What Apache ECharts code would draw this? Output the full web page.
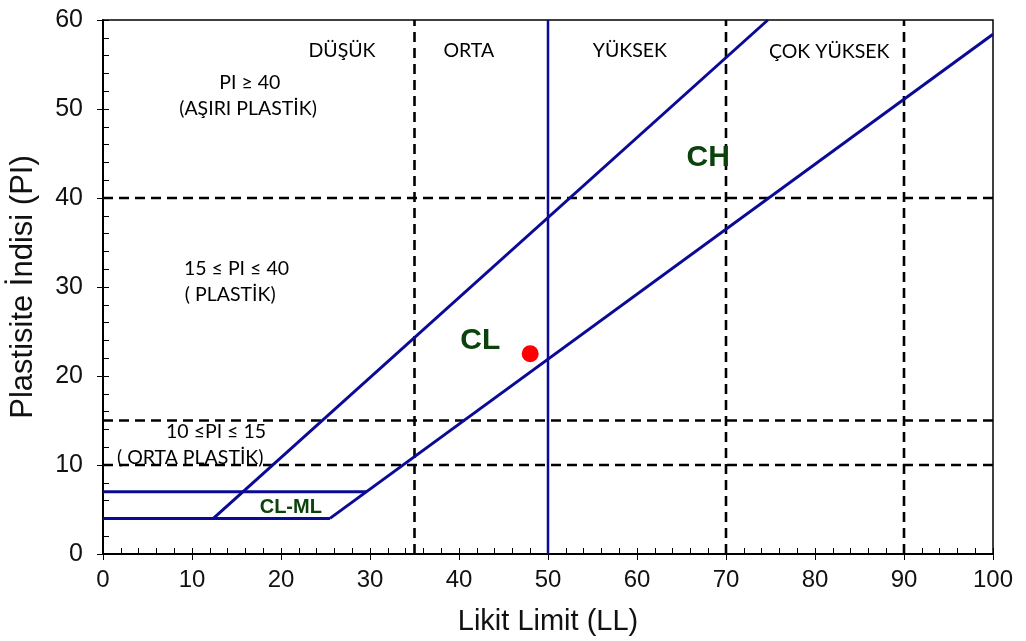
<!DOCTYPE html>
<html>
<head>
<meta charset="utf-8">
<script src="https://cdn.jsdelivr.net/npm/echarts@6/dist/echarts.min.js"></script>
<style>
  html, body { margin: 0; padding: 0; background: #fff; }
  #chart { width: 1026px; height: 641px; }
</style>
</head>
<body>
<div id="chart"></div>
<script>
// Casagrande plasticity chart: liquid limit (LL) vs plasticity index (PI)

// Axis ticks
const xTicks = [0, 10, 20, 30, 40, 50, 60, 70, 80, 90, 100];
const yTicks = [0, 10, 20, 30, 40, 50, 60];

// Classification lines, as [LL, PI] end points
const uLine = [[12.4, 4], [74.7, 60]];
const aLine = [[25.5, 4], [100, 58.4]];
const pi7Line = [[0, 7], [29.6, 7]];
const pi4Line = [[0, 4], [25.5, 4]];
const ll50Line = [[50, 0], [50, 60]];

// Zone boundaries (dashed)
const llBounds = [35, 70, 90];
const piBounds = [10, 15, 40];

// Sample
const sample = [[48, 22.5]];

// Zone and group names
const plasticityLabels = ['DÜŞÜK', 'ORTA', 'YÜKSEK', 'ÇOK YÜKSEK'];
const piLabels = ['PI ≥ 40', '(AŞIRI PLASTİK)', '15 ≤ PI ≤ 40', '( PLASTİK)', '10 ≤PI ≤ 15', '( ORTA PLASTİK)'];
const groupLabels = ['CH', 'CL', 'CL-ML'];

const BLUE = '#0a0a96';
const GREEN = '#0c420c';
const TXT = '#000';

const textFont = 'Lato, "Open Sans", sans-serif';
const axisFont = '"Liberation Sans", Arial, sans-serif';

function blueLine(data, width) {
  return {
    type: 'line', data: data, symbol: 'none', silent: true,
    lineStyle: { color: BLUE, width: width || 3 }, z: 3
  };
}

function dashed(data) {
  return {
    type: 'line', data: data, symbol: 'none', silent: true,
    lineStyle: { color: '#000', width: 2.6, type: [10, 6] }, z: 2
  };
}

function textItem(pos, text, style) {
  return {
    value: pos,
    label: Object.assign({ show: true, formatter: text, position: 'inside' }, style)
  };
}

const plainStyle = { color: TXT, fontSize: 19.5, fontFamily: textFont };
const groupStyle = { color: GREEN, fontSize: 30, fontWeight: 'bold', fontFamily: axisFont };

const labelData = [
  textItem([26.85, 56.6], plasticityLabels[0], plainStyle),
  textItem([41.1, 56.6], plasticityLabels[1], plainStyle),
  textItem([59.2, 56.6], plasticityLabels[2], plainStyle),
  textItem([81.6, 56.4], plasticityLabels[3], plainStyle),
  textItem([16.5, 52.9], piLabels[0], plainStyle),
  textItem([16.3, 50.0], piLabels[1], plainStyle),
  textItem([15.0, 32.1], piLabels[2], plainStyle),
  textItem([14.3, 29.1], piLabels[3], plainStyle),
  textItem([12.7, 13.7], piLabels[4], plainStyle),
  textItem([9.8, 10.8], piLabels[5], plainStyle),
  textItem([68.0, 44.5], groupLabels[0], groupStyle),
  textItem([42.4, 24.0], groupLabels[1], groupStyle),
  textItem([21.1, 5.2], groupLabels[2], Object.assign({}, groupStyle, { fontSize: 20 }))
];

const series = [];
llBounds.forEach(v => series.push(dashed([[v, 0], [v, 60]])));
piBounds.forEach(v => series.push(dashed([[0, v], [100, v]])));
series.push(blueLine(uLine));
series.push(blueLine(aLine));
series.push(blueLine(pi7Line));
series.push(blueLine(pi4Line));
series.push(blueLine(ll50Line, 2.5));
series.push({
  type: 'scatter', data: sample, symbol: 'circle', symbolSize: 17,
  itemStyle: { color: '#ff0000', opacity: 1 }, silent: true, z: 5
});
series.push({
  type: 'scatter', data: labelData, symbolSize: 0, silent: true, z: 6,
  itemStyle: { opacity: 1 }
});

const chart = echarts.init(document.getElementById('chart'), null, { renderer: 'canvas' });

const majorX = {
  type: 'value', min: xTicks[0], max: xTicks[xTicks.length - 1], interval: 10,
  position: 'bottom',
  name: 'Likit Limit (LL)', nameLocation: 'middle', nameGap: 53,
  nameTextStyle: { fontSize: 29, color: '#111', fontFamily: axisFont },
  axisLine: { show: true, onZero: false, lineStyle: { color: '#000', width: 2 } },
  axisTick: { show: true, inside: false, length: 6, lineStyle: { color: '#000', width: 1 } },
  axisLabel: { fontSize: 24, color: '#111', margin: 14, fontFamily: axisFont },
  splitLine: { show: false }
};
const minorX = {
  type: 'value', min: xTicks[0], max: xTicks[xTicks.length - 1], interval: 2,
  position: 'bottom',
  axisLine: { show: false, onZero: false },
  axisTick: { show: true, inside: true, length: 6, lineStyle: { color: '#000', width: 1 } },
  axisLabel: { show: false },
  splitLine: { show: false }
};
const majorY = {
  type: 'value', min: yTicks[0], max: yTicks[yTicks.length - 1], interval: 10,
  position: 'left',
  name: 'Plastisite İndisi (PI)', nameLocation: 'middle', nameGap: 64,
  nameTextStyle: { fontSize: 31, color: '#111', fontFamily: axisFont },
  axisLine: { show: true, onZero: false, lineStyle: { color: '#000', width: 2 } },
  axisTick: { show: true, inside: false, length: 6, lineStyle: { color: '#000', width: 1 } },
  axisLabel: { fontSize: 25, color: '#111', margin: 20, fontFamily: axisFont },
  splitLine: { show: false }
};
const minorY = {
  type: 'value', min: yTicks[0], max: yTicks[yTicks.length - 1], interval: 2,
  position: 'left',
  axisLine: { show: false, onZero: false },
  axisTick: { show: true, inside: true, length: 6, lineStyle: { color: '#000', width: 1 } },
  axisLabel: { show: false },
  splitLine: { show: false }
};

chart.setOption({
  animation: false,
  backgroundColor: '#fff',
  grid: {
    left: 103, right: 33, top: 20, bottom: 87,
    show: true, borderColor: '#000', borderWidth: 1.5, backgroundColor: 'transparent'
  },
  xAxis: [majorX, minorX],
  yAxis: [majorY, minorY],
  series: series
});
</script>
</body>
</html>
